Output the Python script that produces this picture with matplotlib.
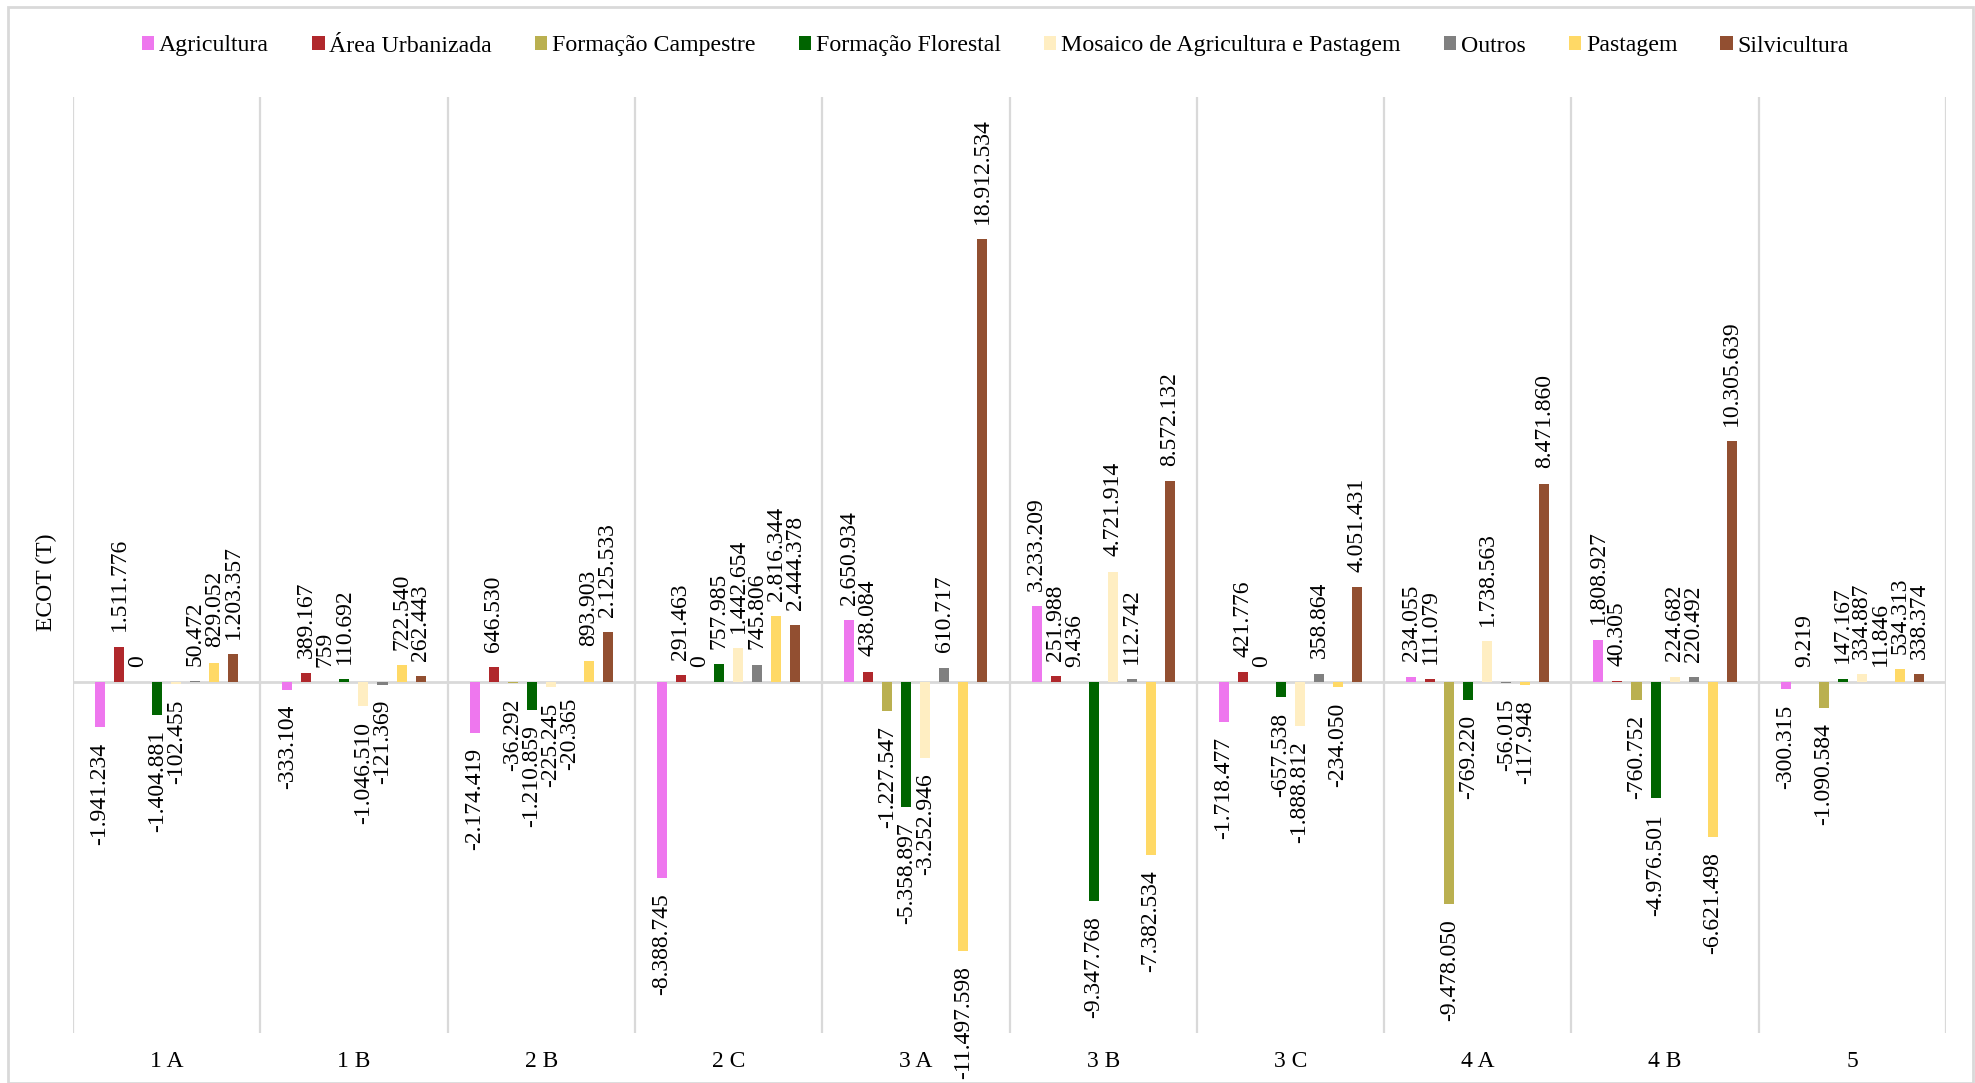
import matplotlib
matplotlib.use("Agg")
import matplotlib.pyplot as plt
from matplotlib.patches import Rectangle
import numpy as np

# Regions and net change of each land-use class (ECOT, in tonnes)
categories = ["1 A", "1 B", "2 B", "2 C", "3 A", "3 B", "3 C", "4 A", "4 B", "5"]

agricultura = [-1941234, -333104, -2174419, -8388745, 2650934, 3233209, -1718477, 234055, 1808927, -300315]
area_urbanizada = [1511776, 389167, 646530, 291463, 438084, 251988, 421776, 111079, 40305, 9219]
formacao_campestre = [0, 759, -36292, 0, -1227547, 9436, 0, -9478050, -760752, -1090584]
formacao_florestal = [-1404881, 110692, -1210859, 757985, -5358897, -9347768, -657538, -769220, -4976501, 147167]
mosaico = [-102455, -1046510, -225245, 1442654, -3252946, 4721914, -1888812, 1738563, 224682, 334887]
outros = [50472, -121369, -20365, 745806, 610717, 112742, 358864, -56015, 220492, 11846]
pastagem = [829052, 722540, 893903, 2816344, -11497598, -7382534, -234050, -117948, -6621498, 534313]
silvicultura = [1203357, 262443, 2125533, 2444378, 18912534, 8572132, 4051431, 8471860, 10305639, 338374]

series_names = ["Agricultura", "Área Urbanizada", "Formação Campestre", "Formação Florestal",
                "Mosaico de Agricultura e Pastagem", "Outros", "Pastagem", "Silvicultura"]
series_values = [agricultura, area_urbanizada, formacao_campestre, formacao_florestal,
                 mosaico, outros, pastagem, silvicultura]
series_colors = ["#EE77EE", "#B0282C", "#BAB050", "#006400",
                 "#FFEEC2", "#808080", "#FFD966", "#924F31"]

plt.rcParams["font.family"] = ["Liberation Serif", "DejaVu Serif"]

fig = plt.figure(figsize=(19.75, 10.83), dpi=100)
ax = fig.add_axes([73 / 1975, 1 - 1033 / 1083, (1946 - 73) / 1975, (1033 - 97) / 1083])

grid_color = "#D9D9D9"
x = np.arange(len(categories))
pitch = 0.1016
width = 0.0535


def fmt(v):
    return f"{v:,}".replace(",", ".")


handles = []
for i, (name, vals, col) in enumerate(zip(series_names, series_values, series_colors)):
    pos = x + (i - 3.5) * pitch
    bars = ax.bar(pos, vals, width=width, color=col, label=name, zorder=3)
    handles.append(bars)
    for xp, v in zip(pos, vals):
        if v >= 0:
            ax.annotate(fmt(v), (xp, v), xytext=(0, 11), textcoords="offset points",
                        rotation=90, ha="center", va="bottom", fontsize=17, zorder=4)
        else:
            ax.annotate(fmt(v), (xp, v), xytext=(0, -11), textcoords="offset points",
                        rotation=90, ha="center", va="top", fontsize=17, zorder=4)

# category separators and zero line
for b in np.arange(-0.5, len(categories), 1.0):
    ax.axvline(b, color=grid_color, lw=1.6, zorder=1)
ax.axhline(0, color=grid_color, lw=2.0, zorder=2)

ax.set_xlim(-0.5, len(categories) - 0.5)
ax.set_ylim(-15e6, 25e6)
ax.set_xticks(x)
ax.set_xticklabels(categories, fontsize=17)
ax.tick_params(axis="x", length=0, pad=13)
ax.set_yticks([])
for s in ax.spines.values():
    s.set_visible(False)

ax.set_ylabel("ECOT (T)", fontsize=17)
ax.yaxis.set_label_coords(-0.0085, 0.482)

fig.legend(handles=handles, labels=series_names, loc="center", ncol=8,
           bbox_to_anchor=(0.504, 1 - 46 / 1083), frameon=False, fontsize=17.2,
           handlelength=0.52, handleheight=0.52, handletextpad=0.2, columnspacing=1.8)

# outer chart border
fig.patches.append(Rectangle((8 / 1975, 0.0), (1973 - 8) / 1975, 1 - 7 / 1083,
                             transform=fig.transFigure, fill=False,
                             edgecolor=grid_color, lw=2.0))

fig.savefig("out.png", dpi=100)
